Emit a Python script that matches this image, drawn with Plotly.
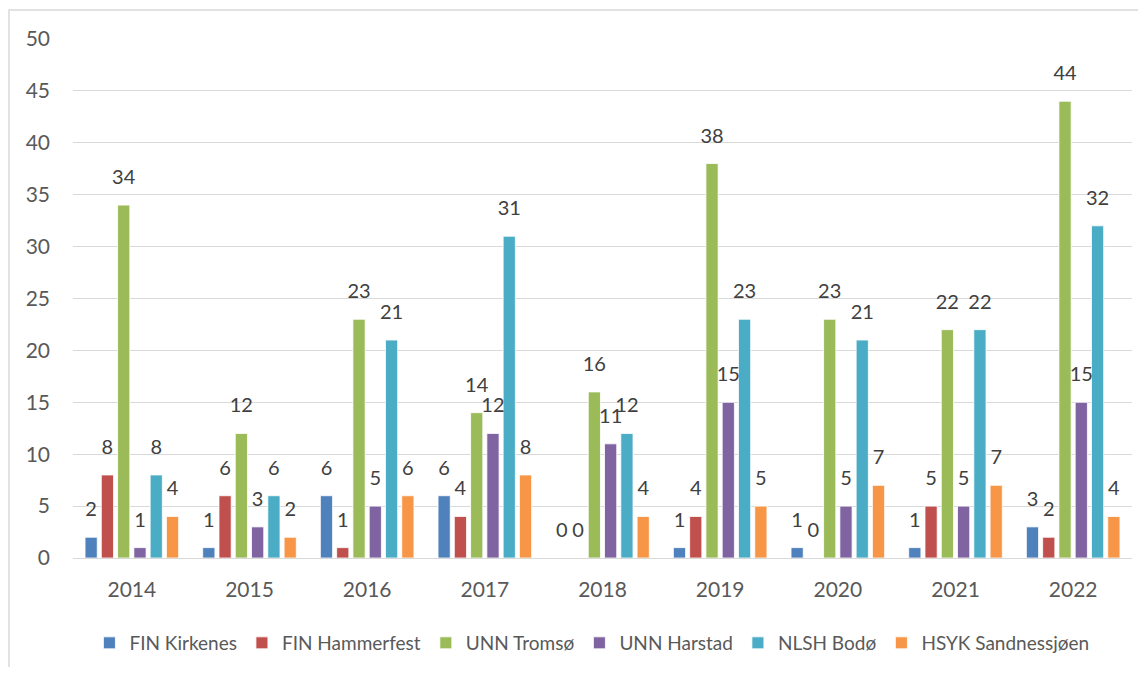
import plotly.graph_objects as go

years = ["2014", "2015", "2016", "2017", "2018", "2019", "2020", "2021", "2022"]
series_names = ["FIN Kirkenes", "FIN Hammerfest", "UNN Tromsø", "UNN Harstad", "NLSH Bodø", "HSYK Sandnessjøen"]
fin_kirkenes = [2, 1, 6, 6, 0, 1, 1, 1, 3]
fin_hammerfest = [8, 6, 1, 4, 0, 4, 0, 5, 2]
unn_tromso = [34, 12, 23, 14, 16, 38, 23, 22, 44]
unn_harstad = [1, 3, 5, 12, 11, 15, 5, 5, 15]
nlsh_bodo = [8, 6, 21, 31, 12, 23, 21, 22, 32]
hsyk_sandnessjoen = [4, 2, 6, 8, 4, 5, 7, 7, 4]
colors = ["#4F81BD", "#C0504D", "#9BBB59", "#8064A2", "#4BACC6", "#F79646"]

all_series = [fin_kirkenes, fin_hammerfest, unn_tromso, unn_harstad, nlsh_bodo, hsyk_sandnessjoen]

FONT = "Lato"
GAP = 0.17

fig = go.Figure()
for name, vals, col in zip(series_names, all_series, colors):
    fig.add_trace(go.Bar(
        x=years, y=vals, name=name, offsetgroup=name,
        marker=dict(color=col, line=dict(color="white", width=0.8)),
        hoverinfo="y",
    ))
for name, vals, col in zip(series_names, all_series, colors):
    fig.add_trace(go.Scatter(
        x=years, y=vals, mode="markers+text", text=[str(v) for v in vals],
        textposition="top center", offsetgroup=name, showlegend=False,
        marker=dict(size=24, color="rgba(0,0,0,0)"),
        textfont=dict(family=FONT, size=20, color="#404040"),
        hoverinfo="skip", cliponaxis=False,
    ))

fig.update_layout(
    width=1130, height=659,
    barmode="group", bargap=GAP, bargroupgap=0.25,
    scattermode="group", scattergap=GAP,
    paper_bgcolor="white", plot_bgcolor="white",
    margin=dict(l=65, r=6, t=31, b=108),
    font=dict(family=FONT, size=17, color="#595959"),
    showlegend=True,
    legend=dict(orientation="h", x=0.49, xanchor="center", y=-0.1615, yanchor="middle",
                font=dict(family=FONT, size=19, color="#595959"),
                itemwidth=30, traceorder="normal"),
    xaxis=dict(showgrid=False, showline=False, ticks="", ticklabelstandoff=17,
               tickfont=dict(family=FONT, size=21, color="#595959")),
    yaxis=dict(range=[0, 50], dtick=5, showgrid=True, gridcolor="#D9D9D9", gridwidth=1.3,
               zeroline=True, zerolinecolor="#D9D9D9", zerolinewidth=1.3,
               showline=False, ticks="", ticklabelstandoff=22,
               tickfont=dict(family=FONT, size=21, color="#595959")),
    shapes=[dict(type="rect", xref="paper", yref="paper",
                 x0=-0.0604, x1=1.1, y0=-0.4, y1=1.0558,
                 line=dict(color="#D9D9D9", width=1.5), fillcolor="rgba(0,0,0,0)", layer="below")],
)

fig.write_html("out.html")
